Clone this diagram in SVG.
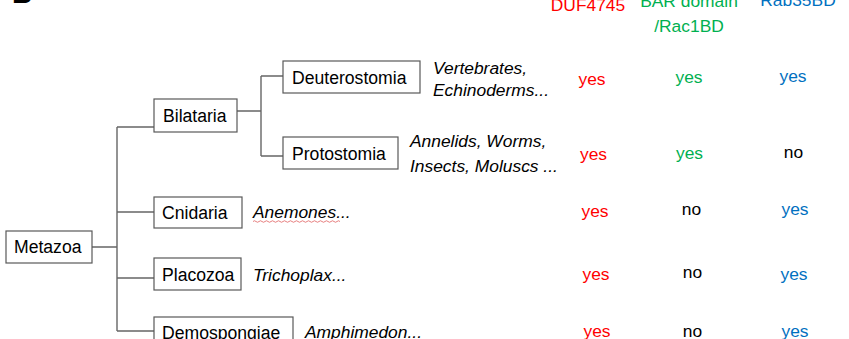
<svg xmlns="http://www.w3.org/2000/svg" width="849" height="339" viewBox="0 0 849 339">
<style>
text{font-family:"Liberation Sans",Arial,sans-serif;font-size:17.6px;fill:#000}
.box{fill:#fff;stroke:#595959;stroke-width:1.2}
.it{font-style:italic;font-size:17.4px}
.c{text-anchor:middle;font-size:17.4px}
.r{fill:#ff0000}.g{fill:#00b050}.b{fill:#0070c0}
.conn{fill:none;stroke:#666;stroke-width:1.4}
</style>
<rect width="849" height="339" fill="#fff"/>
<text x="12" y="3" style="font-size:28px;font-weight:bold">B</text>
<g id="connectors" class="conn">
<path d="M92 247H117M117 127V331M117 127H154M117 212H154M117 278H154M117 331H154"/>
<path d="M237 111H261M261 76V156M261 76H283M261 156H283"/>
</g>
<g id="metazoa"><rect class="box" x="6" y="231" width="86" height="32"/><text x="14" y="253">Metazoa</text></g>
<g id="bilataria"><rect class="box" x="154" y="99" width="83" height="33"/><text x="163" y="122">Bilataria</text></g>
<g id="deuterostomia"><rect class="box" x="283" y="61" width="137" height="32"/><text x="292" y="84">Deuterostomia</text></g>
<g id="protostomia"><rect class="box" x="283" y="137" width="115" height="32"/><text x="292" y="160">Protostomia</text></g>
<g id="cnidaria"><rect class="box" x="154" y="197" width="88" height="31"/><text x="162" y="219">Cnidaria</text></g>
<g id="placozoa"><rect class="box" x="154" y="258" width="87" height="32"/><text x="162" y="281">Placozoa</text></g>
<g id="demospongiae"><rect class="box" x="154" y="317" width="139" height="32"/><text x="162" y="339">Demospongiae</text></g>
<g id="examples">
<text class="it" x="433" y="74">Vertebrates,</text>
<text class="it" x="433" y="96">Echinoderms...</text>
<text class="it" x="410" y="147">Annelids, Worms,</text>
<text class="it" x="410" y="172">Insects, Moluscs ...</text>
<text class="it" x="253" y="218">Anemones...</text>
<path d="M253 221.5q1.5 -1.5 3 0t3 0t3 0t3 0t3 0t3 0t3 0t3 0t3 0t3 0t3 0t3 0t3 0t3 0t3 0t3 0t3 0t3 0t3 0t3 0t3 0t3 0t3 0t3 0t3 0t3 0t3 0t3 0t3 0" fill="none" stroke="#e06060" stroke-width="0.8"/>
<text class="it" x="253" y="281">Trichoplax...</text>
<text class="it" x="305" y="338">Amphimedon...</text>
</g>
<g id="headers">
<text class="c r" x="588" y="11">DUF4745</text>
<text class="c g" x="689" y="7">BAR domain</text>
<text class="c g" x="689" y="32">/Rac1BD</text>
<text class="c b" x="798" y="6">Rab35BD</text>
</g>
<g id="table">
<text class="c r" x="592" y="85">yes</text>
<text class="c g" x="689" y="83">yes</text>
<text class="c b" x="793" y="82">yes</text>
<text class="c r" x="593.5" y="160">yes</text>
<text class="c g" x="689.5" y="159">yes</text>
<text class="c" x="793.5" y="158">no</text>
<text class="c r" x="595" y="217">yes</text>
<text class="c" x="691.5" y="215">no</text>
<text class="c b" x="795" y="215">yes</text>
<text class="c r" x="596" y="280">yes</text>
<text class="c" x="692.5" y="278">no</text>
<text class="c b" x="794" y="280">yes</text>
<text class="c r" x="597" y="337">yes</text>
<text class="c" x="692.5" y="337">no</text>
<text class="c b" x="795" y="337">yes</text>
</g>
</svg>
